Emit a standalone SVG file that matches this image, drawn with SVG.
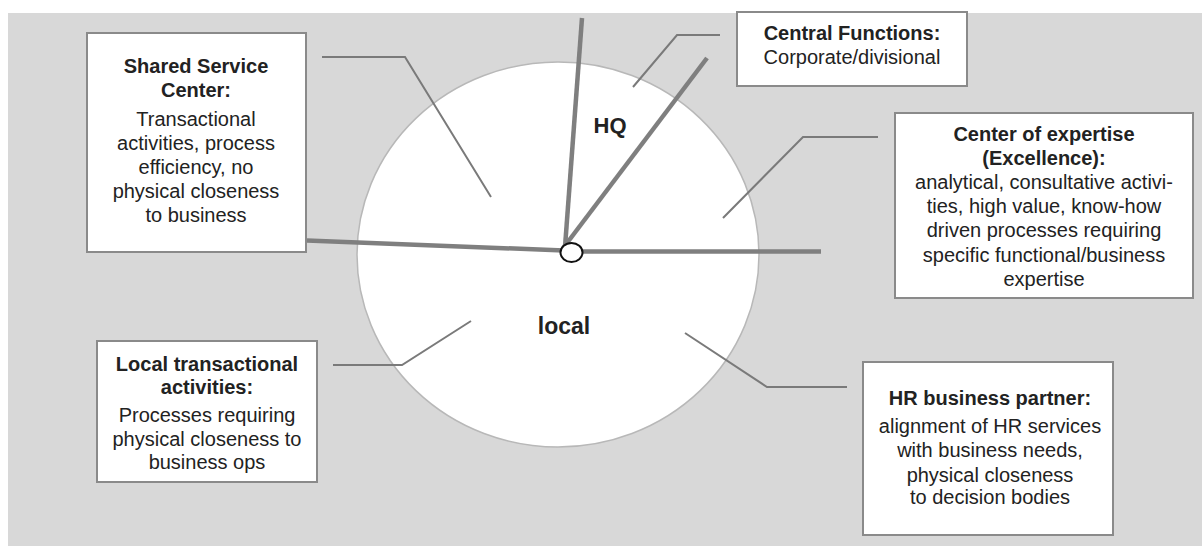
<svg xmlns="http://www.w3.org/2000/svg" width="1202" height="546" viewBox="0 0 1202 546">
<style>
.box{fill:#fff;stroke:#8a8a8a;stroke-width:2}
.t{font-family:"Liberation Sans",Arial,sans-serif;font-size:20px;fill:#222;text-anchor:middle}
.b{font-weight:bold}
.thick{stroke:#7f7f7f;stroke-width:4.5;fill:none;stroke-linecap:butt}
.thin{stroke:#7a7a7a;stroke-width:2;fill:none}
.lbl{font-family:"Liberation Sans",Arial,sans-serif;font-weight:bold;fill:#222;text-anchor:middle}
</style>
<rect x="0" y="0" width="1202" height="546" fill="#fff"/>
<rect x="8" y="13" width="1194" height="533" fill="#d8d8d8"/>
<g id="circle">
<ellipse cx="558" cy="254.5" rx="201" ry="192.5" fill="#fff" stroke="#b8b8b8" stroke-width="1.5"/>
</g>
<g id="connectors">
<line class="thick" x1="307" y1="240.5" x2="564" y2="250.5"/>
<line class="thick" x1="582" y1="18" x2="565" y2="247"/>
<line class="thick" x1="707" y1="58" x2="564" y2="247"/>
<line class="thick" x1="580" y1="251.5" x2="821" y2="251.5"/>
<polyline class="thin" points="322,57 405,57 491,197"/>
<polyline class="thin" points="720,35 677,35 633,87"/>
<polyline class="thin" points="878,137 803,137 723,218"/>
<polyline class="thin" points="333,365 402,365 471,321"/>
<polyline class="thin" points="685,333 767,387 847,387"/>
</g>
<g id="hub">
<ellipse cx="571.5" cy="252.5" rx="11" ry="9.5" fill="#fff" stroke="#111" stroke-width="2"/>
</g>
<g id="label-hq"><text class="lbl" x="610" y="133" font-size="22">HQ</text></g>
<g id="label-local"><text class="lbl" x="564" y="334" font-size="23">local</text></g>
<g id="shared-service">
<rect class="box" x="87" y="33" width="219" height="219"/>
<text class="t b" x="196" y="73">Shared Service</text>
<text class="t b" x="196" y="97">Center:</text>
<text class="t" x="196" y="126">Transactional</text>
<text class="t" x="196" y="150">activities, process</text>
<text class="t" x="196" y="174">efficiency, no</text>
<text class="t" x="196" y="198">physical closeness</text>
<text class="t" x="196" y="222">to business</text>
</g>
<g id="central-functions">
<rect class="box" x="737" y="12" width="230" height="74"/>
<text class="t b" x="852" y="40">Central Functions:</text>
<text class="t" x="852" y="64">Corporate/divisional</text>
</g>
<g id="center-of-expertise">
<rect class="box" x="895" y="113" width="298" height="185"/>
<text class="t b" x="1044" y="141">Center of expertise</text>
<text class="t b" x="1044" y="165">(Excellence):</text>
<text class="t" x="1044" y="189">analytical, consultative activi-</text>
<text class="t" x="1044" y="213">ties, high value, know-how</text>
<text class="t" x="1044" y="237">driven processes requiring</text>
<text class="t" x="1044" y="262">specific functional/business</text>
<text class="t" x="1044" y="286">expertise</text>
</g>
<g id="local-transactional">
<rect class="box" x="97" y="341" width="220" height="141"/>
<text class="t b" x="207" y="371">Local transactional</text>
<text class="t b" x="207" y="394">activities:</text>
<text class="t" x="207" y="422">Processes requiring</text>
<text class="t" x="207" y="446">physical closeness to</text>
<text class="t" x="207" y="469">business ops</text>
</g>
<g id="hr-business-partner">
<rect class="box" x="863" y="362" width="250" height="173"/>
<text class="t b" x="990" y="405">HR business partner:</text>
<text class="t" x="990" y="433">alignment of HR services</text>
<text class="t" x="990" y="457">with business needs,</text>
<text class="t" x="990" y="482">physical closeness</text>
<text class="t" x="990" y="504">to decision bodies</text>
</g>
</svg>
